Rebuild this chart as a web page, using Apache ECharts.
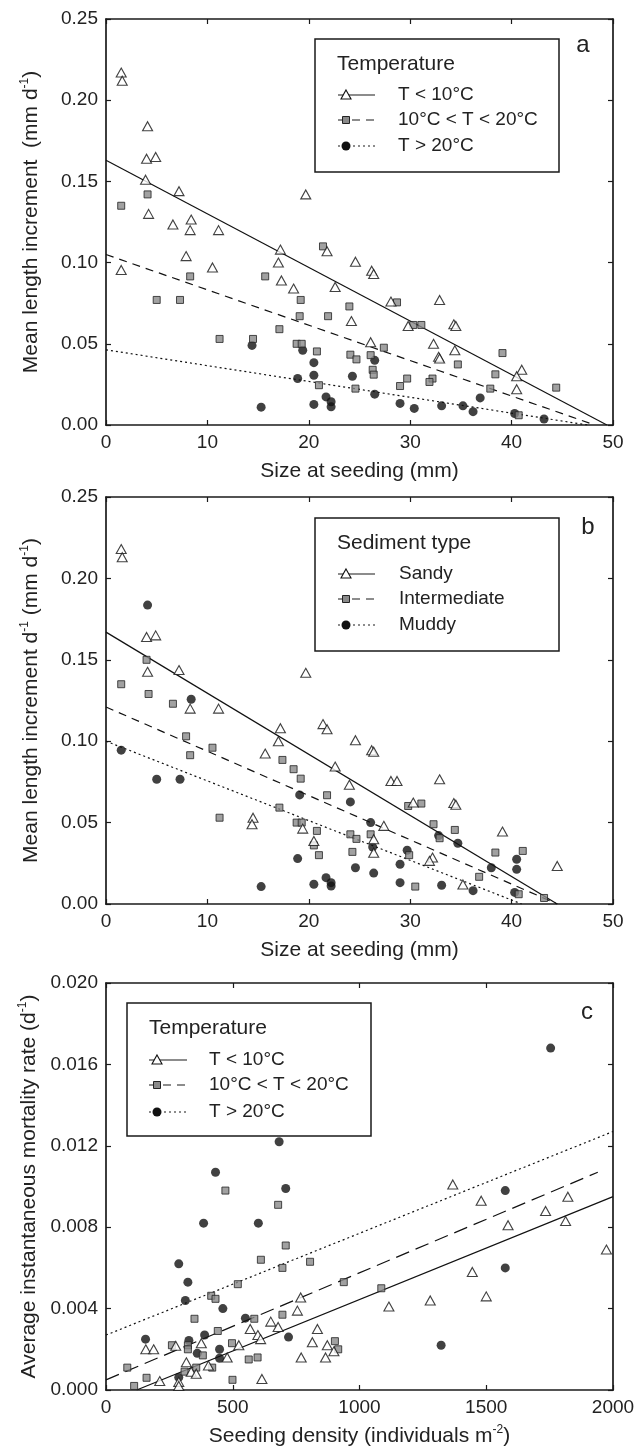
<!DOCTYPE html>
<html><head><meta charset="utf-8">
<script src="https://cdn.jsdelivr.net/npm/echarts@6/dist/echarts.min.js"></script>
<style>html,body{margin:0;padding:0;background:#fff}#c{width:639px;height:1449px}</style>
</head><body><div id="c"></div>
<script>
// ---------- tick labels ----------
const sizeTicks = [0, 10, 20, 30, 40, 50];
const densityTicks = [0, 500, 1000, 1500, 2000];
const incTicks = [0, 0.05, 0.10, 0.15, 0.20, 0.25];
const mortTicks = [0, 0.004, 0.008, 0.012, 0.016, 0.020];

// ---------- legend labels ----------
const tempNames = ['T < 10°C', '10°C < T < 20°C', 'T > 20°C'];
const sedNames = ['Sandy', 'Intermediate', 'Muddy'];

// ---------- panel a : size vs growth, by temperature ----------
const aCold = [[1.5,0.217],[1.6,0.212],[4.1,0.184],[4.0,0.164],[4.9,0.165],[3.9,0.151],[7.2,0.144],[4.2,0.130],[6.6,0.1235],[8.4,0.1265],[8.3,0.120],[11.1,0.120],[1.5,0.0955],[7.9,0.104],[10.5,0.097],[19.7,0.142],[17.2,0.108],[21.8,0.107],[17.0,0.100],[17.3,0.089],[18.5,0.084],[22.6,0.085],[24.6,0.1005],[24.2,0.064],[26.2,0.095],[26.4,0.093],[28.1,0.076],[29.8,0.061],[32.9,0.077],[34.3,0.062],[34.5,0.061],[26.1,0.051],[32.3,0.050],[32.8,0.042],[32.9,0.041],[34.4,0.046],[41.0,0.034],[40.5,0.030],[40.5,0.022]];
const aMid = [[1.5,0.135],[4.1,0.142],[5.0,0.077],[7.3,0.077],[8.3,0.0915],[11.2,0.053],[14.5,0.053],[15.7,0.0915],[17.1,0.059],[19.2,0.077],[19.1,0.067],[21.9,0.067],[21.4,0.110],[18.8,0.050],[19.3,0.050],[20.8,0.0453],[21.0,0.0245],[24.0,0.073],[24.1,0.0433],[24.7,0.0404],[24.6,0.0224],[28.7,0.0755],[30.3,0.0616],[31.1,0.0616],[27.4,0.0476],[26.1,0.043],[26.3,0.034],[26.4,0.031],[29.7,0.0286],[29.0,0.024],[32.2,0.0286],[31.9,0.0265],[34.7,0.0373],[39.1,0.0443],[38.4,0.0312],[37.9,0.0224],[40.7,0.006],[44.4,0.023]];
const aWarm = [[14.4,0.049],[15.3,0.011],[18.9,0.0286],[19.4,0.046],[20.5,0.0384],[20.5,0.0306],[20.5,0.0127],[21.7,0.0173],[22.2,0.0143],[22.2,0.0112],[24.3,0.030],[26.5,0.0398],[26.5,0.019],[29.0,0.0133],[30.4,0.0102],[33.1,0.0118],[35.2,0.0118],[36.2,0.0082],[36.9,0.0167],[40.3,0.0071],[43.2,0.0037]];
const aFitCold = [[0,0.163],[49.4,0]];
const aFitMid = [[0,0.105],[48.2,0]];
const aFitWarm = [[0,0.0463],[47.5,0]];

// ---------- panel b : size vs growth, by sediment ----------
const bSandy = [[1.5,0.218],[1.6,0.213],[4.0,0.164],[4.9,0.165],[4.1,0.1426],[7.2,0.1437],[8.3,0.120],[11.1,0.120],[19.7,0.142],[17.2,0.108],[17.0,0.100],[15.7,0.0924],[21.4,0.1105],[21.8,0.1074],[22.6,0.0844],[24.0,0.0732],[24.6,0.1006],[14.5,0.053],[14.4,0.049],[19.4,0.0463],[20.5,0.0387],[26.2,0.0945],[26.4,0.0935],[28.1,0.0756],[28.7,0.0756],[32.9,0.0766],[34.3,0.062],[34.5,0.061],[30.3,0.0623],[27.4,0.048],[26.4,0.0398],[26.4,0.0315],[32.2,0.0285],[31.9,0.0265],[39.1,0.0445],[44.5,0.0234],[35.2,0.012]];
const bInter = [[1.5,0.135],[4.0,0.150],[4.2,0.129],[6.6,0.123],[7.9,0.103],[8.3,0.0914],[10.5,0.096],[11.2,0.053],[17.4,0.0885],[18.5,0.0828],[19.2,0.077],[21.8,0.0668],[17.1,0.0592],[18.8,0.050],[19.3,0.050],[20.8,0.0449],[20.5,0.036],[21.0,0.030],[24.1,0.0428],[24.7,0.040],[24.3,0.032],[29.8,0.0602],[31.1,0.0617],[32.3,0.049],[32.9,0.0404],[34.4,0.0455],[38.4,0.0316],[41.1,0.0326],[36.8,0.0167],[30.5,0.0107],[26.1,0.0428],[29.9,0.030],[40.7,0.006],[43.2,0.0037]];
const bMuddy = [[4.1,0.1836],[8.4,0.1258],[1.5,0.0945],[5.0,0.0766],[7.3,0.0766],[19.1,0.067],[24.1,0.0627],[18.9,0.0279],[24.6,0.0223],[15.3,0.0107],[20.5,0.0121],[21.7,0.0162],[22.2,0.0131],[22.2,0.011],[26.1,0.050],[26.3,0.035],[26.4,0.019],[29.0,0.0244],[29.7,0.033],[32.8,0.042],[34.7,0.0373],[38.0,0.0223],[40.5,0.0275],[40.5,0.0213],[29.0,0.0131],[33.1,0.0115],[36.2,0.0082],[40.3,0.0071]];
const bFitSandy = [[0,0.167],[44.5,0]];
const bFitInter = [[0,0.121],[44.5,0]];
const bFitMuddy = [[0,0.100],[41,0]];

// ---------- panel c : density vs mortality, by temperature ----------
const cCold = [[157,0.0020],[188,0.0020],[275,0.00217],[376,0.0023],[317,0.00136],[336,0.0009],[356,0.0008],[404,0.0012],[478,0.0016],[524,0.0022],[569,0.0030],[599,0.0027],[610,0.0025],[650,0.00336],[679,0.0031],[755,0.0039],[768,0.00455],[834,0.0030],[814,0.00235],[873,0.0022],[899,0.0019],[866,0.0016],[770,0.0016],[615,0.00054],[212,0.00044],[287,0.0004],[287,0.0002],[1368,0.0101],[1480,0.0093],[1734,0.0088],[1822,0.0095],[1586,0.0081],[1813,0.0083],[1974,0.0069],[1445,0.0058],[1279,0.0044],[1500,0.0046],[1116,0.0041]];
const cMid = [[471,0.0098],[679,0.0091],[709,0.0071],[611,0.0064],[805,0.0063],[696,0.0060],[520,0.0052],[938,0.0053],[415,0.00463],[432,0.00448],[349,0.0035],[441,0.0029],[585,0.0035],[696,0.0037],[260,0.0022],[323,0.0022],[323,0.0020],[382,0.0017],[497,0.0023],[903,0.0024],[916,0.0020],[563,0.0015],[598,0.0016],[84,0.0011],[160,0.0006],[111,0.0002],[310,0.0009],[356,0.0011],[419,0.0011],[499,0.0005],[1086,0.0050]];
const cWarm = [[683,0.0122],[432,0.0107],[709,0.0099],[385,0.0082],[601,0.0082],[287,0.0062],[323,0.0053],[313,0.0044],[461,0.0040],[550,0.00353],[156,0.0025],[327,0.00243],[389,0.0027],[360,0.0018],[448,0.0020],[448,0.00156],[720,0.0026],[287,0.00062],[1754,0.0168],[1575,0.0098],[1575,0.0060],[1322,0.0022]];
const cFitCold = [[121,0],[2000,0.0095]];
const cFitMid = [[0,0.0005],[1940,0.0107]];
const cFitWarm = [[0,0.0027],[2000,0.0127]];

// ---------- styling ----------
const FONT = '"Liberation Sans", Arial, Helvetica, sans-serif';
const INK = '#1a1a1a';
const grids = [
  {left:106, top:19, width:507, height:406},
  {left:106, top:497, width:507, height:407},
  {left:106, top:983, width:507, height:407}
];
const rich = {
  n:{fontSize:21, fontFamily:FONT, color:'#222', verticalAlign:'bottom', lineHeight:26},
  s:{fontSize:12, fontFamily:FONT, color:'#222', verticalAlign:'bottom', padding:[0,0,11,0], lineHeight:26}
};
function baseAxis(gi, ticks){
  return {type:'value', gridIndex:gi, min:ticks[0], max:ticks[ticks.length-1], interval:ticks[1]-ticks[0],
    splitLine:{show:false},
    axisLine:{show:true, onZero:false, lineStyle:{color:INK, width:1.7}},
    axisTick:{show:true, inside:true, length:5, lineStyle:{color:INK, width:1.2}}};
}
const xAxes = [], yAxes = [];
function addAxes(gi, xt, yt, xName, yName, yDec){
  xAxes.push(Object.assign(baseAxis(gi, xt), {position:'bottom', name:xName, nameLocation:'middle', nameGap:31,
    nameTextStyle:{rich, fontSize:21, fontFamily:FONT, color:'#222'},
    axisLabel:{color:'#222', fontSize:19, fontFamily:FONT, margin:8, formatter:v=>String(v)}}));
  xAxes.push(Object.assign(baseAxis(gi, xt), {position:'top', axisLabel:{show:false}}));
  yAxes.push(Object.assign(baseAxis(gi, yt), {position:'left', name:yName, nameLocation:'middle', nameGap:64,
    nameTextStyle:{rich, fontSize:21, fontFamily:FONT, color:'#222'},
    axisLabel:{color:'#222', fontSize:19, fontFamily:FONT, margin:8, formatter:v=>v.toFixed(yDec)}}));
  yAxes.push(Object.assign(baseAxis(gi, yt), {position:'right', axisLabel:{show:false}}));
}
addAxes(0, sizeTicks, incTicks, '{n|Size at seeding (mm)}', '{n|Mean length increment  (mm d}{s|-1}{n|)}', 2);
addAxes(1, sizeTicks, incTicks, '{n|Size at seeding (mm)}', '{n|Mean length increment d}{s|-1}{n| (mm d}{s|-1}{n|)}', 2);
addAxes(2, densityTicks, mortTicks, '{n|Seeding density (individuals m}{s|-2}{n|)}', '{n|Average instantaneous mortality rate (d}{s|-1}{n|)}', 3);

const markTri = {symbol:'triangle', symbolSize:[10,9], itemStyle:{color:'#fff', borderColor:'#111', borderWidth:1.1}};
const markSq = {symbol:'rect', symbolSize:7, itemStyle:{color:'#8a8a8a', borderColor:'#222', borderWidth:1}};
const markCir = {symbol:'circle', symbolSize:9, itemStyle:{color:'#111'}};
const series = [];
function scat(gi, data, mk){
  series.push(Object.assign({type:'scatter', xAxisIndex:2*gi, yAxisIndex:2*gi, data, z:3}, JSON.parse(JSON.stringify(mk))));
}
function fit(gi, data, t){
  series.push({type:'line', xAxisIndex:2*gi, yAxisIndex:2*gi, data, symbol:'none', silent:true, z:2,
    lineStyle:{color:'#111', width:1.2, type:t}});
}
[[0,[aCold,aMid,aWarm],[aFitCold,aFitMid,aFitWarm],[8,6]],
 [1,[bSandy,bInter,bMuddy],[bFitSandy,bFitInter,bFitMuddy],[8,6]],
 [2,[cCold,cMid,cWarm],[cFitCold,cFitMid,cFitWarm],[14,7]]].forEach(([gi, pts, fits, dash])=>{
  fit(gi, fits[0], 'solid'); fit(gi, fits[1], dash); fit(gi, fits[2], [2,3]);
  scat(gi, pts[2], markCir); scat(gi, pts[1], markSq); scat(gi, pts[0], markTri);
});

// ---------- legends (drawn as graphic boxes) ----------
const graphic = [];
function legend(box, title, titleXY, names, rowsY, symX, lx1, lx2, textX, dash){
  graphic.push({type:'rect', shape:box, style:{fill:'#fff', stroke:INK, lineWidth:1.5}, z:100});
  graphic.push({type:'text', style:{text:title, x:titleXY[0], y:titleXY[1], fill:'#222', fontSize:21, fontFamily:FONT, verticalAlign:'middle'}, z:101});
  const dashes = [null, dash, [2,3]];
  names.forEach((nm,i)=>{
    const y = rowsY[i];
    graphic.push({type:'line', shape:{x1:lx1, y1:y, x2:lx2, y2:y}, style:{stroke:INK, lineWidth:1.2, lineDash:dashes[i]}, z:101});
    if(i===0) graphic.push({type:'polygon', shape:{points:[[symX,y-5],[symX+5,y+4],[symX-5,y+4]]}, style:{fill:'#fff', stroke:'#111', lineWidth:1.1}, z:102});
    if(i===1) graphic.push({type:'rect', shape:{x:symX-3.5, y:y-3.5, width:7, height:7}, style:{fill:'#8a8a8a', stroke:'#222', lineWidth:1}, z:102});
    if(i===2) graphic.push({type:'circle', shape:{cx:symX, cy:y, r:4.5}, style:{fill:'#111'}, z:102});
    graphic.push({type:'text', style:{text:nm, x:textX, y:y, fill:'#222', fontSize:19, fontFamily:FONT, verticalAlign:'middle'}, z:101});
  });
}
legend({x:315,y:39,width:244,height:133}, 'Temperature', [337,64], tempNames, [95,120,146], 346, 338, 375, 398, [8,6]);
legend({x:315,y:518,width:244,height:133}, 'Sediment type', [337,543], sedNames, [574,599,625], 346, 338, 375, 399, [8,6]);
legend({x:127,y:1003,width:244,height:133}, 'Temperature', [149,1028], tempNames, [1060,1085,1112], 157, 149, 187, 209, [8,6]);
[['a',583,45],['b',588,527],['c',587,1012]].forEach(([t,x,y])=>{
  graphic.push({type:'text', style:{text:t, x, y, fill:'#222', fontSize:24, fontFamily:FONT, align:'center', verticalAlign:'middle'}, z:101});
});

const chart = echarts.init(document.getElementById('c'), null, {renderer:'canvas'});
chart.setOption({animation:false, backgroundColor:'#fff', grid:grids, xAxis:xAxes, yAxis:yAxes, series, graphic});
</script></body></html>
